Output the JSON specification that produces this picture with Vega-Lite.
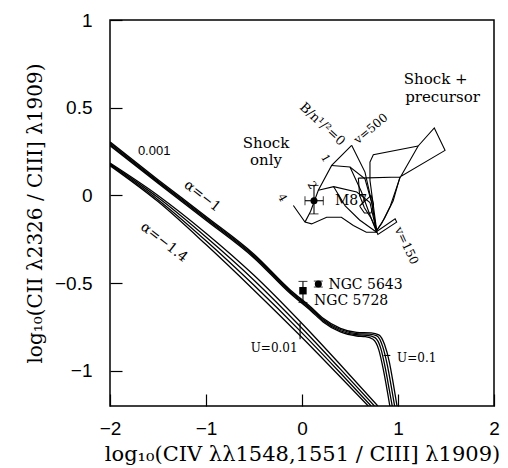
{
  "$schema": "https://vega.github.io/schema/vega-lite/v6.json",
  "width": 384,
  "height": 386,
  "autosize": {"type": "none"},
  "padding": {"left": 110, "top": 20, "right": 14, "bottom": 62},
  "background": "white",
  "config": {
    "view": {"stroke": "black", "strokeWidth": 1.5},
    "axis": {"labelColor": "black", "titleColor": "black"}
  },
  "datasets": {
    "curves": [
      {"s":"a1","o":1,"x":-2,"y":0.305},{"s":"a1","o":2,"x":-1.5,"y":0.09},{"s":"a1","o":3,"x":-1,"y":-0.12},{"s":"a1","o":4,"x":-0.5,"y":-0.335},{"s":"a1","o":5,"x":-0.125,"y":-0.537},{"s":"a1","o":6,"x":0.1,"y":-0.64},{"s":"a1","o":7,"x":0.22,"y":-0.7},{"s":"a1","o":8,"x":0.4,"y":-0.757},{"s":"a1","o":9,"x":0.57,"y":-0.78},{"s":"a1","o":10,"x":0.72,"y":-0.783},{"s":"a1","o":11,"x":0.8,"y":-0.795},{"s":"a1","o":12,"x":0.86,"y":-0.85},{"s":"a1","o":13,"x":0.91,"y":-0.95},{"s":"a1","o":14,"x":0.95,"y":-1.07},{"s":"a1","o":15,"x":0.99,"y":-1.2},
      {"s":"a2","o":1,"x":-2,"y":0.298},{"s":"a2","o":2,"x":-1.5,"y":0.083},{"s":"a2","o":3,"x":-1,"y":-0.127},{"s":"a2","o":4,"x":-0.5,"y":-0.342},{"s":"a2","o":5,"x":-0.125,"y":-0.544},{"s":"a2","o":6,"x":0.1,"y":-0.647},{"s":"a2","o":7,"x":0.22,"y":-0.707},{"s":"a2","o":8,"x":0.4,"y":-0.764},{"s":"a2","o":9,"x":0.57,"y":-0.787},{"s":"a2","o":10,"x":0.7,"y":-0.79},{"s":"a2","o":11,"x":0.78,"y":-0.8},{"s":"a2","o":12,"x":0.84,"y":-0.86},{"s":"a2","o":13,"x":0.89,"y":-0.97},{"s":"a2","o":14,"x":0.93,"y":-1.09},{"s":"a2","o":15,"x":0.965,"y":-1.2},
      {"s":"a3","o":1,"x":-2,"y":0.291},{"s":"a3","o":2,"x":-1.5,"y":0.076},{"s":"a3","o":3,"x":-1,"y":-0.134},{"s":"a3","o":4,"x":-0.5,"y":-0.349},{"s":"a3","o":5,"x":-0.125,"y":-0.551},{"s":"a3","o":6,"x":0.1,"y":-0.654},{"s":"a3","o":7,"x":0.22,"y":-0.714},{"s":"a3","o":8,"x":0.4,"y":-0.771},{"s":"a3","o":9,"x":0.57,"y":-0.794},{"s":"a3","o":10,"x":0.68,"y":-0.797},{"s":"a3","o":11,"x":0.76,"y":-0.81},{"s":"a3","o":12,"x":0.82,"y":-0.87},{"s":"a3","o":13,"x":0.87,"y":-0.99},{"s":"a3","o":14,"x":0.91,"y":-1.11},{"s":"a3","o":15,"x":0.94,"y":-1.2},
      {"s":"a4","o":1,"x":-2,"y":0.284},{"s":"a4","o":2,"x":-1.5,"y":0.069},{"s":"a4","o":3,"x":-1,"y":-0.141},{"s":"a4","o":4,"x":-0.5,"y":-0.356},{"s":"a4","o":5,"x":-0.125,"y":-0.558},{"s":"a4","o":6,"x":0.1,"y":-0.661},{"s":"a4","o":7,"x":0.22,"y":-0.721},{"s":"a4","o":8,"x":0.4,"y":-0.778},{"s":"a4","o":9,"x":0.57,"y":-0.801},{"s":"a4","o":10,"x":0.66,"y":-0.805},{"s":"a4","o":11,"x":0.74,"y":-0.82},{"s":"a4","o":12,"x":0.8,"y":-0.88},{"s":"a4","o":13,"x":0.85,"y":-1.0},{"s":"a4","o":14,"x":0.89,"y":-1.12},{"s":"a4","o":15,"x":0.915,"y":-1.2},
      {"s":"b1","o":1,"x":-2,"y":0.185},{"s":"b1","o":2,"x":-1.5,"y":0.0},{"s":"b1","o":3,"x":-1,"y":-0.215},{"s":"b1","o":4,"x":-0.5,"y":-0.455},{"s":"b1","o":5,"x":0,"y":-0.73},{"s":"b1","o":6,"x":0.4,"y":-0.965},{"s":"b1","o":7,"x":0.79,"y":-1.2},
      {"s":"b2","o":1,"x":-2,"y":0.18},{"s":"b2","o":2,"x":-1.5,"y":-0.012},{"s":"b2","o":3,"x":-1,"y":-0.237},{"s":"b2","o":4,"x":-0.5,"y":-0.483},{"s":"b2","o":5,"x":0,"y":-0.757},{"s":"b2","o":6,"x":0.4,"y":-0.99},{"s":"b2","o":7,"x":0.755,"y":-1.2},
      {"s":"b3","o":1,"x":-2,"y":0.175},{"s":"b3","o":2,"x":-1.5,"y":-0.024},{"s":"b3","o":3,"x":-1,"y":-0.258},{"s":"b3","o":4,"x":-0.5,"y":-0.512},{"s":"b3","o":5,"x":0,"y":-0.783},{"s":"b3","o":6,"x":0.4,"y":-1.012},{"s":"b3","o":7,"x":0.72,"y":-1.2},
      {"s":"b4","o":1,"x":-2,"y":0.17},{"s":"b4","o":2,"x":-1.5,"y":-0.035},{"s":"b4","o":3,"x":-1,"y":-0.28},{"s":"b4","o":4,"x":-0.5,"y":-0.54},{"s":"b4","o":5,"x":0,"y":-0.81},{"s":"b4","o":6,"x":0.4,"y":-1.035},{"s":"b4","o":7,"x":0.69,"y":-1.2}
    ],
    "grid": [
      {"s":"g1","o":1,"x":0.517,"y":0.286},{"s":"g1","o":2,"x":0.656,"y":0.133},{"s":"g1","o":3,"x":0.726,"y":-0.038},{"s":"g1","o":4,"x":0.778,"y":-0.21},
      {"s":"g2","o":1,"x":0.309,"y":0.171},{"s":"g2","o":2,"x":0.5,"y":0.162},{"s":"g2","o":3,"x":0.656,"y":0.095},{"s":"g2","o":4,"x":0.73,"y":-0.05},{"s":"g2","o":5,"x":0.778,"y":-0.21},
      {"s":"g3","o":1,"x":0.17,"y":0.03},{"s":"g3","o":2,"x":0.33,"y":0.05},{"s":"g3","o":3,"x":0.57,"y":0.02},{"s":"g3","o":4,"x":0.708,"y":-0.04},{"s":"g3","o":5,"x":0.778,"y":-0.21},
      {"s":"g4","o":1,"x":-0.09,"y":-0.057},{"s":"g4","o":2,"x":0.031,"y":-0.152},{"s":"g4","o":3,"x":0.1,"y":-0.162},{"s":"g4","o":4,"x":0.257,"y":-0.124},{"s":"g4","o":5,"x":0.41,"y":-0.124},{"s":"g4","o":6,"x":0.535,"y":-0.171},{"s":"g4","o":7,"x":0.67,"y":-0.21},{"s":"g4","o":8,"x":0.778,"y":-0.21},
      {"s":"g5","o":1,"x":0.517,"y":0.286},{"s":"g5","o":2,"x":0.309,"y":0.171},{"s":"g5","o":3,"x":0.17,"y":0.03},{"s":"g5","o":4,"x":0.09,"y":-0.09},{"s":"g5","o":5,"x":0.031,"y":-0.152},
      {"s":"g6","o":1,"x":0.33,"y":0.05},{"s":"g6","o":2,"x":0.45,"y":-0.06},{"s":"g6","o":3,"x":0.6,"y":-0.14},{"s":"g6","o":4,"x":0.778,"y":-0.21},
      {"s":"g7","o":1,"x":0.5,"y":0.162},{"s":"g7","o":2,"x":0.62,"y":0.02},{"s":"g7","o":3,"x":0.7,"y":-0.1},{"s":"g7","o":4,"x":0.778,"y":-0.21},
      {"s":"p1","o":1,"x":0.778,"y":-0.2},{"s":"p1","o":2,"x":0.708,"y":0.086},{"s":"p1","o":3,"x":0.708,"y":0.19},{"s":"p1","o":4,"x":0.743,"y":0.232},{"s":"p1","o":5,"x":1.21,"y":0.282},
      {"s":"p2","o":1,"x":0.587,"y":0.099},{"s":"p2","o":2,"x":1.02,"y":0.105},{"s":"p2","o":3,"x":1.49,"y":0.257},{"s":"p2","o":4,"x":1.378,"y":0.385},{"s":"p2","o":5,"x":1.21,"y":0.282},{"s":"p2","o":6,"x":1.02,"y":0.1},{"s":"p2","o":7,"x":0.92,"y":-0.06},{"s":"p2","o":8,"x":0.83,"y":-0.16},{"s":"p2","o":9,"x":0.778,"y":-0.2},
      {"s":"p3","o":1,"x":1.02,"y":0.105},{"s":"p3","o":2,"x":0.95,"y":-0.03},{"s":"p3","o":3,"x":0.86,"y":-0.13},{"s":"p3","o":4,"x":0.778,"y":-0.2},
      {"s":"p4","o":1,"x":0.587,"y":0.099},{"s":"p4","o":2,"x":0.6,"y":0.0},{"s":"p4","o":3,"x":0.65,"y":-0.07},{"s":"p4","o":4,"x":0.72,"y":-0.13},{"s":"p4","o":5,"x":0.778,"y":-0.2},
      {"s":"p5","o":1,"x":0.6,"y":-0.06},{"s":"p5","o":2,"x":0.66,"y":-0.03},{"s":"p5","o":3,"x":0.72,"y":0.0},{"s":"p5","o":4,"x":0.745,"y":-0.05},{"s":"p5","o":5,"x":0.72,"y":-0.1},{"s":"p5","o":6,"x":0.65,"y":-0.1},{"s":"p5","o":7,"x":0.6,"y":-0.06},
      {"s":"p6","o":1,"x":0.778,"y":-0.205},{"s":"p6","o":2,"x":0.97,"y":-0.133},{"s":"p6","o":3,"x":0.986,"y":-0.152},{"s":"p6","o":4,"x":0.79,"y":-0.222},{"s":"p6","o":5,"x":0.778,"y":-0.205},
      {"s":"u1","o":1,"x":-0.02,"y":-0.725},{"s":"u1","o":2,"x":-0.02,"y":-0.82},
      {"s":"u2","o":1,"x":0.85,"y":-0.912},{"s":"u2","o":2,"x":0.92,"y":-0.912}
    ],
    "points": [
      {"n":"M87","x":0.125,"y":-0.03,"ylo":-0.105,"yhi":0.057,"xlo":0.031,"xhi":0.222},
      {"n":"NGC 5643","x":0.17,"y":-0.505,"ylo":-0.522,"yhi":-0.488},
      {"n":"NGC 5728","x":0.01,"y":-0.543,"ylo":-0.61,"yhi":-0.49}
    ],
    "labels": [
      {"g":"big","t":"Shock +","x":1.393,"y":0.635},
      {"g":"big","t":"precursor","x":1.464,"y":0.533},
      {"g":"big","t":"Shock","x":-0.375,"y":0.272},
      {"g":"big","t":"only","x":-0.375,"y":0.176},
      {"g":"name","t":"NGC 5643","x":0.275,"y":-0.509},
      {"g":"name","t":"NGC 5728","x":0.125,"y":-0.6},
      {"g":"name","t":"M87","x":0.344,"y":-0.032},
      {"g":"u","t":"U=0.01","x":-0.29,"y":-0.867},
      {"g":"u","t":"U=0.1","x":1.195,"y":-0.924},
      {"g":"sans","t":"0.001","x":-1.54,"y":0.232},
      {"g":"alpha","t":"α=−1","x":-1.04,"y":-0.004},
      {"g":"alpha","t":"α=−1.4","x":-1.4375,"y":-0.267},
      {"g":"bn","t":"B/n¹/²=0","x":0.212,"y":0.406},
      {"g":"v500","t":"v=500","x":0.716,"y":0.381},
      {"g":"bval","t":"1","x":0.24,"y":0.21},
      {"g":"bval","t":"2","x":0.1,"y":0.057},
      {"g":"bval","t":"4","x":-0.21,"y":-0.015},
      {"g":"v150","t":"v=150","x":1.09,"y":-0.286}
    ]
  },
  "encoding": {
    "x": {"field": "x", "type": "quantitative", "scale": {"domain": [-2, 2], "nice": false, "zero": false},
      "axis": {"values": [-2, -1, 0, 1, 2], "format": "~g", "labelFlush": false, "domain": false, "grid": false,
        "ticks": true, "offset": -12, "tickSize": 12, "tickColor": "black", "tickWidth": 1.2,
        "labelFont": "Liberation Sans", "labelFontSize": 19, "labelPadding": 13,
        "title": "log₁₀(CIV λλ1548,1551 / CIII] λ1909)", "titleFont": "DejaVu Serif", "titleFontSize": 21, "titleFontWeight": "normal", "titlePadding": 5}},
    "y": {"field": "y", "type": "quantitative", "scale": {"domain": [-1.2, 1], "nice": false, "zero": false},
      "axis": {"values": [-1, -0.5, 0, 0.5, 1], "format": "~g", "labelFlush": false, "domain": false, "grid": false,
        "ticks": true, "offset": -12, "tickSize": 12, "tickColor": "black", "tickWidth": 1.2,
        "labelFont": "Liberation Sans", "labelFontSize": 19, "labelPadding": 18,
        "title": "log₁₀(CII λ2326 / CIII] λ1909)", "titleFont": "DejaVu Serif", "titleFontSize": 20, "titleFontWeight": "normal", "titlePadding": 9}}
  },
  "layer": [
    {
      "data": {"name": "curves"},
      "mark": {"type": "line", "color": "black", "strokeWidth": 1.3, "interpolate": "monotone", "clip": true},
      "encoding": {"detail": {"field": "s"}, "order": {"field": "o"}}
    },
    {
      "data": {"name": "grid"},
      "mark": {"type": "line", "color": "black", "strokeWidth": 1.1, "clip": true},
      "encoding": {"detail": {"field": "s"}, "order": {"field": "o"}}
    },
    {
      "data": {"name": "points"},
      "transform": [{"filter": "datum.n !== 'NGC 5728'"}],
      "mark": {"type": "circle", "color": "black", "opacity": 1, "size": 50}
    },
    {
      "data": {"name": "points"},
      "transform": [{"filter": "datum.n === 'NGC 5728'"}],
      "mark": {"type": "square", "color": "black", "opacity": 1, "size": 55}
    },
    {
      "data": {"name": "points"},
      "mark": {"type": "rule", "color": "black", "strokeWidth": 1.1},
      "encoding": {"y": {"field": "ylo", "type": "quantitative"}, "y2": {"field": "yhi"}}
    },
    {
      "data": {"name": "points"},
      "mark": {"type": "tick", "orient": "horizontal", "color": "black", "size": 9, "thickness": 1.1},
      "encoding": {"y": {"field": "ylo", "type": "quantitative"}}
    },
    {
      "data": {"name": "points"},
      "mark": {"type": "tick", "orient": "horizontal", "color": "black", "size": 9, "thickness": 1.1},
      "encoding": {"y": {"field": "yhi", "type": "quantitative"}}
    },
    {
      "data": {"name": "points"},
      "transform": [{"filter": "isValid(datum.xlo)"}],
      "mark": {"type": "rule", "color": "black", "strokeWidth": 1.1},
      "encoding": {"x": {"field": "xlo", "type": "quantitative"}, "x2": {"field": "xhi"}}
    },
    {
      "data": {"name": "points"},
      "transform": [{"filter": "isValid(datum.xlo)"}],
      "mark": {"type": "tick", "orient": "vertical", "color": "black", "size": 9, "thickness": 1.1},
      "encoding": {"x": {"field": "xlo", "type": "quantitative"}}
    },
    {
      "data": {"name": "points"},
      "transform": [{"filter": "isValid(datum.xlo)"}],
      "mark": {"type": "tick", "orient": "vertical", "color": "black", "size": 9, "thickness": 1.1},
      "encoding": {"x": {"field": "xhi", "type": "quantitative"}}
    },
    {
      "data": {"name": "labels"},
      "transform": [{"filter": "datum.g === 'big'"}],
      "mark": {"type": "text", "font": "DejaVu Serif", "fontSize": 15, "align": "center", "baseline": "alphabetic", "color": "black"},
      "encoding": {"text": {"field": "t"}}
    },
    {
      "data": {"name": "labels"},
      "transform": [{"filter": "datum.g === 'name'"}],
      "mark": {"type": "text", "font": "DejaVu Serif", "fontSize": 14, "align": "left", "baseline": "middle", "color": "black"},
      "encoding": {"text": {"field": "t"}}
    },
    {
      "data": {"name": "labels"},
      "transform": [{"filter": "datum.g === 'u'"}],
      "mark": {"type": "text", "font": "DejaVu Serif", "fontSize": 12, "align": "center", "baseline": "middle", "color": "black"},
      "encoding": {"text": {"field": "t"}}
    },
    {
      "data": {"name": "labels"},
      "transform": [{"filter": "datum.g === 'sans'"}],
      "mark": {"type": "text", "font": "Liberation Sans", "fontSize": 13, "align": "center", "baseline": "alphabetic", "color": "black"},
      "encoding": {"text": {"field": "t"}}
    },
    {
      "data": {"name": "labels"},
      "transform": [{"filter": "datum.g === 'alpha'"}],
      "mark": {"type": "text", "font": "DejaVu Serif", "fontSize": 14, "align": "center", "baseline": "middle", "angle": 38, "color": "black"},
      "encoding": {"text": {"field": "t"}}
    },
    {
      "data": {"name": "labels"},
      "transform": [{"filter": "datum.g === 'bn'"}],
      "mark": {"type": "text", "font": "DejaVu Serif", "fontSize": 13, "align": "center", "baseline": "middle", "angle": 43, "color": "black"},
      "encoding": {"text": {"field": "t"}}
    },
    {
      "data": {"name": "labels"},
      "transform": [{"filter": "datum.g === 'v500'"}],
      "mark": {"type": "text", "font": "DejaVu Serif", "fontSize": 12, "align": "center", "baseline": "middle", "angle": -40, "color": "black"},
      "encoding": {"text": {"field": "t"}}
    },
    {
      "data": {"name": "labels"},
      "transform": [{"filter": "datum.g === 'bval'"}],
      "mark": {"type": "text", "font": "DejaVu Serif", "fontSize": 11, "align": "center", "baseline": "middle", "angle": 60, "color": "black"},
      "encoding": {"text": {"field": "t"}}
    },
    {
      "data": {"name": "labels"},
      "transform": [{"filter": "datum.g === 'v150'"}],
      "mark": {"type": "text", "font": "DejaVu Serif", "fontSize": 12, "align": "center", "baseline": "middle", "angle": 65, "color": "black"},
      "encoding": {"text": {"field": "t"}}
    }
  ]
}
